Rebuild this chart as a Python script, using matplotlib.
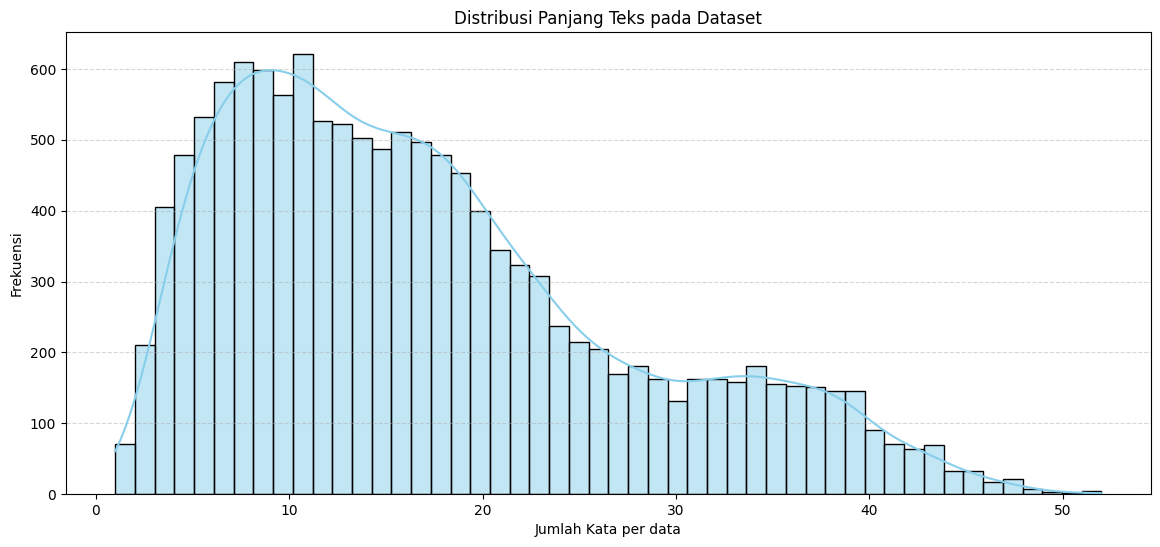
import numpy as np
import matplotlib
matplotlib.use("Agg")
import matplotlib.pyplot as plt
import seaborn as sns

word_counts = list(range(1, 53))
frequencies = [15, 56, 211, 405, 478, 532, 581, 610, 598, 564, 621,
               527, 523, 503, 487, 511, 497, 479, 453, 400, 345,
               323, 308, 238, 215, 205, 170, 181, 162, 131, 162,
               163, 158, 181, 155, 153, 151, 146, 146, 91, 71,
               64, 70, 33, 32, 17, 21, 7, 3, 1, 2, 2]
n_bins = 50
title = "Distribusi Panjang Teks pada Dataset"
xlabel = "Jumlah Kata per data"
ylabel = "Frekuensi"

samples = np.repeat(word_counts, frequencies)

W, H = 1160, 547
fig = plt.figure(figsize=(W / 100, H / 100), dpi=100)
ax = fig.add_axes([66.0 / W, 1 - 494.15 / H, 1084.7 / W, 462 / H])
sns.histplot(x=samples, bins=n_bins, kde=True,
             color="skyblue", edgecolor="black", ax=ax)
ax.set_title(title)
ax.set_xlabel(xlabel)
ax.set_ylabel(ylabel, labelpad=4.5)
ax.grid(axis="y", linestyle="--", alpha=0.5)
fig.savefig("out.png", dpi=100)
